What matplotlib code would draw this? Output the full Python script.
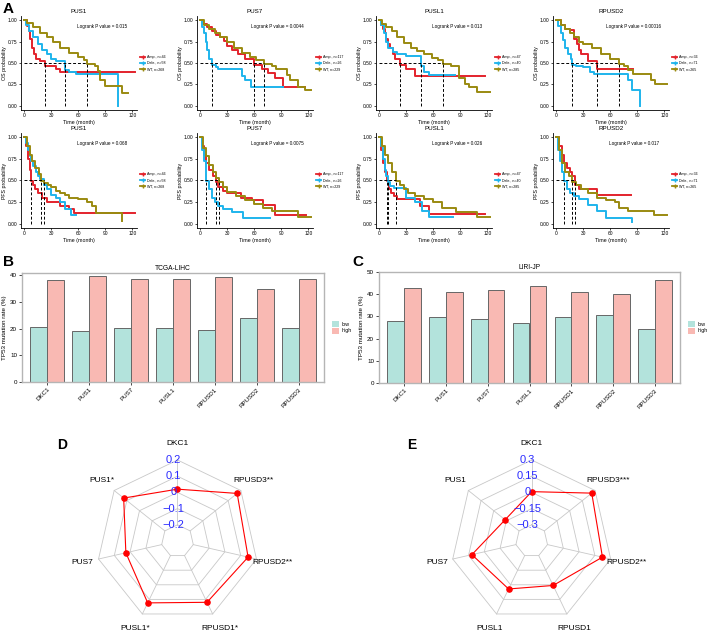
import numpy as np
import matplotlib
matplotlib.use("Agg")
import matplotlib.pyplot as plt
from matplotlib.lines import Line2D
from matplotlib.patches import Patch

plt.rcParams["font.family"] = ["Liberation Sans", "DejaVu Sans"]

W, H = 708, 636

# ---------------- data: Kaplan-Meier (time in months, survival) ----------------
km_genes = ["PUS1", "PUS7", "PUSL1", "RPUSD2"]
os_pvals = ["0.015", "0.0044", "0.013", "0.00016"]
pfs_pvals = ["0.068", "0.0075", "0.026", "0.017"]
n_amp = [46, 117, 47, 36]
n_dele = [58, 26, 40, 71]
n_wt = [268, 229, 285, 265]

# OS
os_pus1_amp = ([0, 3, 5, 7, 9, 11, 13, 17, 23, 35, 40, 123],
               [1, .93, .87, .78, .68, .6, .55, .52, .47, .43, .39, .39])
os_pus1_dele = ([0, 2, 5, 10, 15, 20, 25, 30, 35, 45, 50, 57, 104, 104.5],
                [1, .95, .87, .8, .72, .65, .6, .55, .52, .42, .39, .37, .37, 0])
os_pus1_wt = ([0, 3, 10, 18, 25, 32, 40, 50, 60, 66, 70, 78, 82, 84, 90, 108, 115],
              [1, .97, .92, .85, .8, .75, .68, .62, .57, .53, .49, .46, .41, .3, .23, .15, .15])

os_pus7_amp = ([0, 3, 8, 13, 18, 22, 26, 30, 35, 42, 50, 60, 68, 75, 83, 92, 116],
               [1, .96, .92, .88, .83, .8, .76, .7, .65, .6, .55, .48, .43, .38, .32, .22, .22])
os_pus7_dele = ([0, 2, 4, 6, 8, 10, 13, 17, 20, 30, 46, 50, 56, 92],
                [1, .92, .85, .75, .65, .55, .48, .45, .43, .43, .35, .3, .22, .22])
os_pus7_wt = ([0, 4, 10, 16, 22, 30, 38, 46, 55, 62, 71, 80, 84, 96, 100, 108, 116, 123],
              [1, .95, .9, .85, .8, .74, .68, .62, .57, .53, .49, .46, .43, .36, .3, .22, .18, .18])

os_pusl1_amp = ([0, 2, 4, 6, 8, 10, 12, 15, 18, 23, 30, 40, 117],
                [1, .95, .9, .85, .78, .72, .67, .6, .55, .48, .43, .35, .35])
os_pusl1_dele = ([0, 2, 5, 8, 10, 15, 20, 30, 46, 50, 55, 84],
                 [1, .95, .85, .75, .68, .63, .6, .58, .47, .4, .36, .36])
os_pusl1_wt = ([0, 3, 8, 14, 20, 28, 35, 42, 50, 58, 65, 71, 80, 85, 88, 95, 100, 108, 123],
               [1, .96, .92, .87, .8, .73, .68, .64, .6, .56, .53, .49, .46, .46, .32, .26, .22, .16, .16])

os_rpusd2_amp = ([0, 5, 10, 15, 20, 23, 25, 28, 35, 45, 85],
                 [1, .95, .9, .89, .78, .72, .65, .6, .52, .43, .43])
os_rpusd2_dele = ([0, 2, 5, 8, 10, 13, 16, 18, 22, 30, 38, 42, 75, 80, 84, 92, 92.5],
                  [1, .93, .85, .77, .68, .6, .55, .48, .47, .45, .4, .37, .37, .3, .18, .18, 0])
os_rpusd2_wt = ([0, 5, 10, 15, 20, 25, 30, 40, 50, 60, 70, 75, 80, 85, 95, 105, 110, 123],
                [1, .95, .9, .85, .8, .75, .72, .67, .6, .55, .49, .47, .42, .37, .37, .3, .25, .25])

# PFS
pfs_pus1_amp = ([0, 2, 4, 6, 8, 10, 12, 15, 20, 25, 40, 50, 55, 123],
                [1, .9, .75, .62, .49, .45, .4, .35, .3, .25, .2, .17, .12, .12])
pfs_pus1_dele = ([0, 2, 4, 6, 8, 10, 13, 15, 18, 22, 25, 30, 35, 40, 45, 52, 57],
                 [1, .93, .85, .78, .72, .67, .6, .55, .52, .45, .4, .33, .3, .25, .17, .1, .1])
pfs_pus1_wt = ([0, 3, 6, 9, 12, 16, 19, 22, 26, 30, 35, 40, 45, 50, 60, 70, 75, 80, 108, 108.5],
               [1, .9, .8, .72, .65, .58, .49, .47, .45, .42, .38, .35, .33, .3, .28, .25, .2, .12, .12, .03])

pfs_pus7_amp = ([0, 2, 4, 7, 10, 14, 17, 20, 25, 30, 45, 57, 70, 83, 117],
                [1, .9, .8, .7, .62, .55, .48, .42, .38, .35, .3, .27, .22, .1, .1])
pfs_pus7_dele = ([0, 2, 4, 7, 10, 13, 16, 20, 25, 35, 47, 77],
                 [1, .85, .72, .49, .4, .3, .25, .2, .17, .13, .07, .07])
pfs_pus7_wt = ([0, 3, 6, 10, 14, 18, 21, 25, 30, 40, 50, 60, 70, 80, 95, 108, 123],
               [1, .88, .78, .68, .6, .53, .48, .43, .37, .32, .27, .23, .18, .15, .15, .08, .08])

pfs_pusl1_amp = ([0, 2, 4, 6, 9, 11, 13, 16, 20, 45, 55, 117],
                 [1, .85, .7, .6, .49, .4, .35, .32, .28, .2, .11, .11])
pfs_pusl1_dele = ([0, 2, 4, 6, 8, 10, 12, 16, 25, 30, 40, 48, 55, 82],
                  [1, .9, .75, .62, .55, .48, .44, .41, .41, .3, .25, .15, .08, .08])
pfs_pusl1_wt = ([0, 3, 6, 10, 14, 19, 23, 27, 32, 40, 50, 60, 70, 85, 108, 123],
                [1, .9, .8, .7, .6, .49, .45, .4, .35, .32, .28, .25, .18, .14, .08, .08])

pfs_rpusd2_amp = ([0, 3, 6, 9, 12, 15, 18, 21, 25, 45, 83],
                  [1, .9, .8, .7, .65, .6, .55, .45, .4, .33, .33])
pfs_rpusd2_dele = ([0, 2, 4, 6, 9, 12, 15, 20, 25, 35, 45, 55, 83, 83.5],
                   [1, .85, .72, .6, .49, .4, .35, .32, .28, .22, .15, .07, .07, .02])
pfs_rpusd2_wt = ([0, 3, 6, 10, 14, 18, 22, 28, 35, 45, 55, 65, 70, 80, 108, 123],
                 [1, .85, .7, .6, .55, .48, .45, .4, .35, .3, .27, .25, .18, .15, .1, .1])

os_curves = [[os_pus1_amp, os_pus1_dele, os_pus1_wt],
             [os_pus7_amp, os_pus7_dele, os_pus7_wt],
             [os_pusl1_amp, os_pusl1_dele, os_pusl1_wt],
             [os_rpusd2_amp, os_rpusd2_dele, os_rpusd2_wt]]
pfs_curves = [[pfs_pus1_amp, pfs_pus1_dele, pfs_pus1_wt],
              [pfs_pus7_amp, pfs_pus7_dele, pfs_pus7_wt],
              [pfs_pusl1_amp, pfs_pusl1_dele, pfs_pusl1_wt],
              [pfs_rpusd2_amp, pfs_rpusd2_dele, pfs_rpusd2_wt]]

# ---------------- data: TP53 mutation rate bars ----------------
genes = ["DKC1", "PUS1", "PUS7", "PUSL1", "RPUSD1", "RPUSD2", "RPUSD3"]
tcga_low = [20.5, 19.0, 20.1, 20.1, 19.5, 24.0, 20.1]
tcga_high = [38.0, 39.7, 38.6, 38.6, 39.1, 34.6, 38.6]
liri_low = [27.8, 29.6, 28.7, 26.9, 29.6, 30.5, 24.2]
liri_high = [42.8, 41.0, 41.9, 43.7, 41.0, 40.0, 46.3]

# ---------------- data: radar ----------------
radar_vars = ["DKC1", "PUS1", "PUS7", "PUSL1", "RPUSD1", "RPUSD2", "RPUSD3"]
d_labels = ["DKC1", "PUS1*", "PUS7", "PUSL1*", "RPUSD1*", "RPUSD2**", "RPUSD3**"]
d_values = [0.02, 0.125, 0.027, 0.124, 0.12, 0.147, 0.171]
e_labels = ["DKC1", "PUS1", "PUS7", "PUSL1", "RPUSD1", "RPUSD2**", "RPUSD3***"]
e_values = [0.007, -0.135, 0.118, 0.043, 0.007, 0.222, 0.261]

km_cols = ["#E3232C", "#1EB4EC", "#9A8A10"]

fig = plt.figure(figsize=(W / 100, H / 100), dpi=100)


def px_axes(l, t, r, b):
    return fig.add_axes([l / W, 1 - b / H, (r - l) / W, (b - t) / H])


def km_panel(ax, curves, title, pval, ylab, i):
    labs = ["Amp., n=%d" % n_amp[i], "Dele., n=%d" % n_dele[i], "WT, n=%d" % n_wt[i]]
    handles = []
    for (t, s), col, lab in zip(curves, km_cols, labs):
        ax.step(t, s, where="post", color=col, lw=1.4)
        handles.append(Line2D([], [], color=col, lw=1.3, marker="+", ms=3, label=lab))
    meds = []
    for t, s in curves:
        for tt, ss in zip(t, s):
            if ss <= 0.5:
                meds.append(tt)
                break
    ax.hlines(0.5, 0, max(meds), colors="black", linestyles=(0, (3, 2)), lw=0.7)
    ax.vlines(meds, 0, 0.5, colors="black", linestyles=(0, (3, 2)), lw=0.7)
    ax.text(86, 0.93, "Logrank P value = " + pval, fontsize=3.3, ha="center", va="center")
    ax.set_xlim(-3.5, 125)
    ax.set_ylim(-0.05, 1.05)
    ax.set_xticks([0, 30, 60, 90, 120])
    ax.set_yticks([0, 0.25, 0.5, 0.75, 1.0])
    ax.set_yticklabels(["0.00", "0.25", "0.50", "0.75", "1.00"])
    ax.tick_params(labelsize=3.5, length=1.5, width=0.5, pad=1)
    for sp in ["top", "right"]:
        ax.spines[sp].set_visible(False)
    for sp in ["left", "bottom"]:
        ax.spines[sp].set_linewidth(0.6)
    ax.set_title(title, fontsize=4.5, pad=2)
    ax.set_xlabel("Time (month)", fontsize=3.8, labelpad=1)
    ax.set_ylabel(ylab, fontsize=3.8, labelpad=1)
    ax.legend(handles=handles, loc="center left", bbox_to_anchor=(1.02, 0.5), frameon=False,
              fontsize=2.6, handlelength=1.5, handletextpad=0.4, labelspacing=0.6,
              borderaxespad=0, borderpad=0.2)


lefts = [21, 197, 376, 553]
for i in range(4):
    ax = px_axes(lefts[i], 16, lefts[i] + 116, 110)
    km_panel(ax, os_curves[i], km_genes[i], os_pvals[i], "OS probability", i)
    ax = px_axes(lefts[i], 133, lefts[i] + 116, 228)
    km_panel(ax, pfs_curves[i], km_genes[i], pfs_pvals[i], "PFS probability", i)


def bar_panel(ax, low, high, title, ymax, yticks):
    x = np.arange(len(genes))
    ax.bar(x - 0.2, low, width=0.4, color="#B3E3DC", edgecolor="#666666", lw=0.7, label="low")
    ax.bar(x + 0.2, high, width=0.4, color="#F9B9B3", edgecolor="#666666", lw=0.7, label="high")
    ax.set_xlim(-0.6, len(genes) - 0.4)
    ax.set_ylim(0, ymax)
    ax.set_yticks(yticks)
    ax.set_xticks(x)
    ax.set_xticklabels(genes, rotation=45, ha="right", rotation_mode="anchor")
    ax.tick_params(labelsize=4.5, length=2, width=0.5, pad=1.5)
    for sp in ax.spines.values():
        sp.set_color("#B5B5B5")
        sp.set_linewidth(1.0)
    ax.set_title(title, fontsize=4.8, pad=2)
    ax.set_ylabel("TP53 mutation rate (%)", fontsize=4.5, labelpad=2)
    ax.legend(loc="center left", bbox_to_anchor=(1.01, 0.5), frameon=False, fontsize=3.8,
              handlelength=1.3, handleheight=1.3, handletextpad=0.5, labelspacing=0.1)
    for h in ax.get_legend().legend_handles:
        h.set_edgecolor("none")


ax = px_axes(22, 273, 324, 382)
bar_panel(ax, tcga_low, tcga_high, "TCGA-LIHC", 40.75, [0, 10, 20, 30, 40])
ax = px_axes(379, 272, 680, 383)
bar_panel(ax, liri_low, liri_high, "LIRI-JP", 50, [0, 10, 20, 30, 40, 50])


def radar(cx, cy, R, values, labels, vmin, vmax, ticklabels):
    l, r, t, b = -1.9, 1.9, 1.3, -(636 - cy) / R
    ax = px_axes(cx + l * R, cy - t * R, cx + r * R, cy - b * R)
    ax.set_xlim(l, r)
    ax.set_ylim(b, t)
    ax.axis("off")
    n = len(values)
    ang = np.pi / 2 + 2 * np.pi * np.arange(n) / n
    ring = np.r_[ang, ang[0]]
    for k in range(5):
        rr = (k + 1) / 5
        ax.plot(rr * np.cos(ring), rr * np.sin(ring), color="#C8C8C8", lw=0.6)
    for a in ang:
        ax.plot([0.2 * np.cos(a), np.cos(a)], [0.2 * np.sin(a), np.sin(a)], color="#C8C8C8", lw=0.6)
    rv = 0.2 + 0.8 * (np.array(values) - vmin) / (vmax - vmin)
    xs, ys = rv * np.cos(ang), rv * np.sin(ang)
    ax.plot(np.r_[xs, xs[0]], np.r_[ys, ys[0]], color="red", lw=0.8)
    ax.scatter(xs, ys, color="red", s=14, zorder=3)
    for k, tl in enumerate(ticklabels):
        ax.text(-0.05, (k + 1) / 5, tl, color="#2B2BFF", ha="center", va="center", fontsize=8)
    for a, lab in zip(ang, labels):
        ax.text(1.2 * np.cos(a), 1.2 * np.sin(a), lab, ha="center", va="center", fontsize=6)


radar(177.5, 541, 81, d_values, d_labels, -0.2, 0.2,
      ["\u22120.2", "\u22120.1", "0", "0.1", "0.2"])
radar(531.7, 541, 81, e_values, e_labels, -0.3, 0.3,
      ["\u22120.3", "\u22120.15", "0", "0.15", "0.3"])

# panel letters
for lab, x, y, fs in [("A", 3, 9, 11), ("B", 3, 262, 11), ("C", 352, 262, 11),
                      ("D", 57, 445, 10), ("E", 407, 445, 10)]:
    fig.text(x / W, 1 - y / H, lab, fontsize=fs, fontweight="bold", va="center", ha="left")

fig.savefig("out.png", dpi=100)
